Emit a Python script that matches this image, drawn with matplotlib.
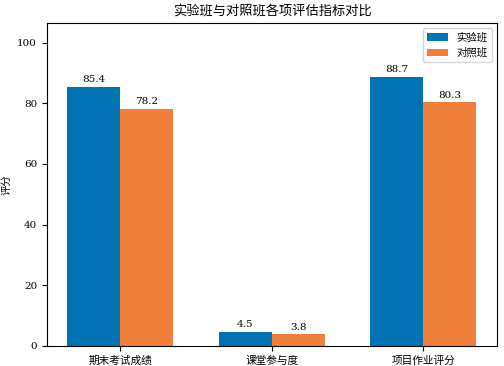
import numpy as np
import matplotlib
matplotlib.use("Agg")
import matplotlib.pyplot as plt

plt.rcParams['font.family'] = ['DejaVu Serif', 'Noto Sans CJK SC']

categories = ['期末考试成绩', '课堂参与度', '项目作业评分']
exp_scores = [85.4, 4.5, 88.7]
ctrl_scores = [78.2, 3.8, 80.3]
series_names = ['实验班', '对照班']

x = np.arange(len(categories))
w = 0.35

fig = plt.figure(figsize=(5.04, 3.66), dpi=100)
ax = fig.add_axes([0.093, 0.055, 0.893, 0.882])
b1 = ax.bar(x - w/2, exp_scores, w, color='#0173B2', label=series_names[0])
b2 = ax.bar(x + w/2, ctrl_scores, w, color='#F07F3C', label=series_names[1])
for bars in (b1, b2):
    for r in bars:
        ax.annotate(f"{r.get_height():.1f}", (r.get_x() + r.get_width()/2, r.get_height()),
                    xytext=(0, 2), textcoords='offset points', ha='center', va='bottom', fontsize=7.5)

ax.set_xticks(x)
ax.set_xticklabels(categories, fontsize=7.7)
ax.tick_params(axis='y', labelsize=7.5)
ax.set_ylabel('评分', fontsize=7.5)
ax.set_title('实验班与对照班各项评估指标对比', fontsize=9.5)
ax.set_ylim(0, max(exp_scores) * 1.2)
ax.legend(loc='upper right', fontsize=7.5)

fig.savefig('out.png', dpi=100)
